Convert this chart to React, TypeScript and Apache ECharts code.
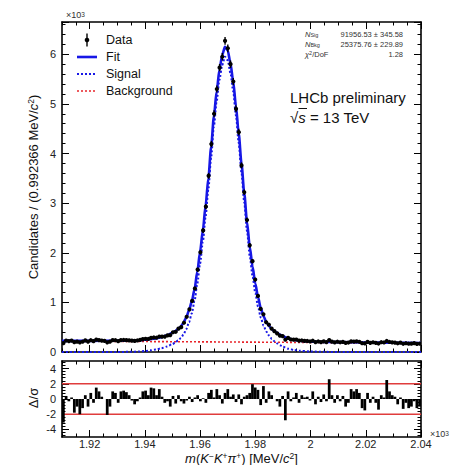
import React, { useEffect, useRef } from 'react';
import * as echarts from 'echarts';

// ---------- data ----------
const X_MIN = 1910;
const X_MAX = 2040;
const BIN_WIDTH = 0.992366; // MeV
// candidates per bin, in units of 10^3
const candidates = [
  0.178, 0.231, 0.220, 0.228, 0.198, 0.210, 0.195, 0.207, 0.233, 0.210,
  0.237, 0.218, 0.248, 0.240, 0.230, 0.225, 0.194, 0.210, 0.240, 0.237,
  0.218, 0.240, 0.242, 0.239, 0.233, 0.229, 0.223, 0.232, 0.243, 0.260,
  0.266, 0.263, 0.286, 0.293, 0.288, 0.312, 0.310, 0.311, 0.334, 0.341,
  0.398, 0.408, 0.471, 0.50, 0.59, 0.71, 0.86, 1.03, 1.28, 1.66,
  2.01, 2.45, 2.93, 3.55, 4.19, 4.80, 5.30, 5.73, 5.95, 6.27,
  6.12, 5.80, 5.45, 4.90, 4.43, 3.76, 3.22, 2.66, 2.15, 1.83,
  1.46, 1.13, 0.87, 0.76, 0.60, 0.55, 0.47, 0.42, 0.375, 0.33,
  0.32, 0.25, 0.285, 0.252, 0.248, 0.251, 0.228, 0.232, 0.224, 0.222,
  0.212, 0.227, 0.200, 0.212, 0.200, 0.214, 0.200, 0.240, 0.209, 0.194,
  0.207, 0.196, 0.205, 0.184, 0.191, 0.215, 0.210, 0.214, 0.206, 0.177,
  0.173, 0.204, 0.185, 0.196, 0.184, 0.171, 0.197, 0.192, 0.222, 0.202,
  0.194, 0.190, 0.176, 0.188, 0.166, 0.177, 0.167, 0.168, 0.178, 0.165,
  0.167,
];
// pulls (Delta / sigma) per bin
const pulls = [
  -3.1, 0.4, -0.3, 0.2, -1.8, -1.0, -2.0, -1.2, 0.5, -1.0,
  0.8, -0.5, 1.5, 1.0, 0.3, 0.0, -2.1, -1.0, 1.0, 0.8,
  -0.5, 1.0, 1.1, 0.9, 0.5, -0.2, -0.7, -0.3, 0.2, 1.0,
  1.1, 0.5, 1.5, 1.4, 0.5, 1.3, 0.3, -0.5, -0.3, -1.0,
  0.4, -0.6, 0.5, -0.3, -0.6, -0.2, 0.3, -0.4, 0.2, 0.5,
  -0.3, 0.1, -0.5, 0.8, 1.2, 0.2, 1.3, 0.5, -0.6, 0.8,
  1.3, 0.3, 0.6, -0.4, 0.6, -0.7, 0.3, 0.5, 0.8, 1.95,
  1.5, 1.2, -0.8, 1.7, -0.5, 1.0, 0.5, 0.0, -0.3, -1.0,
  0.4, -2.8, 1.0, -0.3, 0.2, 0.8, -0.5, 0.5, 0.2, 0.3,
  -0.2, 1.0, -0.7, 0.3, -0.4, 0.6, -0.3, 2.6, 0.5, -0.5,
  0.5, -0.3, 0.4, -1.0, -0.5, 1.3, 1.0, 1.3, 0.8, -1.2,
  -1.5, 0.8, -0.5, 0.3, -0.5, -1.4, 0.5, 0.2, 2.5, 1.0,
  0.5, 0.3, -0.7, 0.2, -1.3, -0.5, -1.2, -1.0, -0.3, -1.2,
  -1.0,
];
// model curves (mass in MeV, values in 10^3)
const curveMass = [
  1910, 1920, 1930, 1935, 1938, 1940, 1942, 1944, 1946, 1948,
  1950, 1951, 1952, 1953, 1954, 1955, 1956, 1957, 1958, 1959,
  1960, 1961, 1962, 1963, 1964, 1965, 1966, 1967, 1968, 1969,
  1970, 1971, 1972, 1973, 1974, 1975, 1976, 1977, 1978, 1979,
  1980, 1981, 1982, 1983, 1984, 1985, 1986, 1987, 1988, 1989,
  1990, 1992, 1994, 1996, 2000, 2005, 2010, 2020, 2030, 2040,
];
const fitValues = [
  0.225, 0.225, 0.227, 0.232, 0.238, 0.247, 0.258, 0.274, 0.298, 0.335,
  0.385, 0.42, 0.46, 0.51, 0.59, 0.70, 0.84, 1.02, 1.27, 1.62,
  2.02, 2.45, 2.95, 3.50, 4.13, 4.75, 5.25, 5.68, 5.98, 6.15,
  6.08, 5.82, 5.45, 4.95, 4.40, 3.80, 3.20, 2.62, 2.12, 1.72,
  1.38, 1.10, 0.88, 0.72, 0.60, 0.52, 0.46, 0.415, 0.38, 0.345,
  0.315, 0.272, 0.245, 0.228, 0.21, 0.203, 0.199, 0.192, 0.186, 0.18,
];
const signalValues = [
  0, 0, 0.001, 0.004, 0.01, 0.02, 0.033, 0.05, 0.075, 0.11,
  0.16, 0.19, 0.23, 0.28, 0.35, 0.46, 0.60, 0.78, 1.03, 1.38,
  1.78, 2.22, 2.72, 3.28, 3.92, 4.55, 5.05, 5.48, 5.78, 5.95,
  5.88, 5.62, 5.25, 4.76, 4.21, 3.61, 3.01, 2.43, 1.93, 1.53,
  1.19, 0.91, 0.69, 0.53, 0.41, 0.33, 0.26, 0.21, 0.17, 0.135,
  0.105, 0.065, 0.04, 0.025, 0.01, 0.003, 0, 0, 0, 0,
];
const bkgMass = [1910, 2040];
const bkgValues = [0.22, 0.18];
const xMajorTicks = [1920, 1940, 1960, 1980, 2000, 2020, 2040];
const pullMajorTicks = [-4, -2, 0, 2, 4];
const pullBand = [2, -2];

const FONT = '"Liberation Sans", Arial, sans-serif';
const BLUE = '#1717e6';
const RED = '#e8242a';

const xAx = (grid: number, pos: string, major: boolean, labels: boolean) => ({
  type: 'value',
  gridIndex: grid,
  position: pos,
  min: X_MIN,
  max: X_MAX,
  interval: major ? 10 : 5,
  axisLine: { show: major, onZero: false, lineStyle: { color: '#000', width: 1.6 } },
  axisTick: major
    ? { show: true, inside: true, length: 7, customValues: xMajorTicks, lineStyle: { color: '#000', width: 1 } }
    : { show: true, inside: true, length: 3.5, lineStyle: { color: '#000', width: 1 } },
  axisLabel: labels
    ? {
        show: true,
        margin: 1,
        customValues: xMajorTicks,
        fontFamily: FONT,
        fontSize: 11,
        lineHeight: 12,
        color: '#222',
        formatter: (v: number) => (Math.round(v) % 20 === 0 ? String(Math.round(v) / 1000) : ''),
      }
    : { show: false },
  splitLine: { show: false },
});

const yTop = (pos: string, major: boolean, labels: boolean) => ({
  type: 'value',
  gridIndex: 0,
  position: pos,
  min: 0,
  max: 6.65,
  interval: major ? 1 : 0.2,
  axisLine: { show: major, onZero: false, lineStyle: { color: '#000', width: 1.6 } },
  axisTick: { show: true, inside: true, length: major ? 7 : 3.5, lineStyle: { color: '#000', width: 1 } },
  axisLabel: labels
    ? {
        show: true,
        margin: 6,
        fontFamily: FONT,
        fontSize: 11,
        color: '#222',
        formatter: (v: number) => (Math.abs(v - Math.round(v)) < 1e-6 ? String(Math.round(v)) : ''),
      }
    : { show: false },
  splitLine: { show: false },
});

const minorPull: number[] = [];
for (let k = -12; k <= 12; k++) minorPull.push(Math.round(k * 0.4 * 10) / 10);

const yPull = (pos: string, major: boolean, labels: boolean) => ({
  type: 'value',
  gridIndex: 1,
  position: pos,
  min: -5,
  max: 5,
  interval: major ? 1 : 0.5,
  axisLine: { show: major, onZero: false, lineStyle: { color: '#000', width: 1.6 } },
  axisTick: major
    ? { show: true, inside: true, length: 7, customValues: pullMajorTicks, lineStyle: { color: '#000', width: 1 } }
    : { show: true, inside: true, length: 3.5, customValues: minorPull, lineStyle: { color: '#000', width: 1 } },
  axisLabel: labels
    ? {
        show: true,
        margin: 6,
        customValues: pullMajorTicks,
        fontFamily: FONT,
        fontSize: 11,
        color: '#222',
        formatter: (v: number) => (Math.round(v) % 2 === 0 ? String(Math.round(v)) : ''),
      }
    : { show: false },
  splitLine: { show: false },
});

const txt = (text: string, x: number, y: number, extra: any = {}, el: any = {}) => ({
  type: 'text',
  x,
  y,
  silent: true,
  ...el,
  style: {
    text,
    fontFamily: FONT,
    fontSize: 12.5,
    fill: '#111',
    align: 'left',
    verticalAlign: 'middle',
    ...extra,
  },
});

export default function App() {
  const ref = useRef<HTMLDivElement>(null);
  useEffect(() => {
    if (!ref.current) return;
    const chart = echarts.init(ref.current, null, { renderer: 'svg' });

    const dataPts = candidates.map((v, i) => [X_MIN + (i + 0.5) * BIN_WIDTH, v]);
    const pullPts = pulls.map((v, i) => [X_MIN + (i + 0.5) * BIN_WIDTH, v]);
    const fitPts = curveMass.map((m, i) => [m, fitValues[i]]);
    const sigPts = curveMass.map((m, i) => [m, signalValues[i]]);
    const bkgPts = bkgMass.map((m, i) => [m, bkgValues[i]]);

    const supRich = {
      i: { fontStyle: 'italic', fontFamily: FONT, fontSize: 13, lineHeight: 14, fill: '#111' },
      sup: { fontFamily: FONT, fontSize: 8.5, lineHeight: 14, verticalAlign: 'top', fill: '#111' },
    };

    const option: any = {
      animation: false,
      backgroundColor: '#fff',
      grid: [
        { left: 62, top: 22, width: 359, height: 330 },
        { left: 62, top: 361, width: 359, height: 76 },
      ],
      xAxis: [
        xAx(0, 'bottom', true, false),
        xAx(0, 'bottom', false, false),
        xAx(0, 'top', true, false),
        xAx(0, 'top', false, false),
        xAx(1, 'bottom', true, true),
        xAx(1, 'bottom', false, false),
        xAx(1, 'top', true, false),
        xAx(1, 'top', false, false),
      ],
      yAxis: [
        yTop('left', true, true),
        yTop('left', false, false),
        yTop('right', true, false),
        yTop('right', false, false),
        yPull('left', true, true),
        yPull('left', false, false),
        yPull('right', true, false),
        yPull('right', false, false),
      ],
      series: [
        {
          type: 'line',
          name: 'Background',
          xAxisIndex: 0,
          yAxisIndex: 0,
          data: bkgPts,
          showSymbol: false,
          lineStyle: { color: RED, width: 1.6, type: [2, 2] },
          z: 2,
        },
        {
          type: 'line',
          name: 'Signal',
          xAxisIndex: 0,
          yAxisIndex: 0,
          data: sigPts,
          showSymbol: false,
          smooth: 0.25,
          smoothMonotone: 'x',
          lineStyle: { color: BLUE, width: 2, type: [2, 2] },
          z: 3,
        },
        {
          type: 'line',
          name: 'Fit',
          xAxisIndex: 0,
          yAxisIndex: 0,
          data: fitPts,
          showSymbol: false,
          smooth: 0.25,
          smoothMonotone: 'x',
          lineStyle: { color: BLUE, width: 2.6 },
          z: 4,
        },
        {
          type: 'custom',
          name: 'Data',
          xAxisIndex: 0,
          yAxisIndex: 0,
          data: dataPts,
          clip: true,
          z: 5,
          encode: { x: 0, y: 1 },
          renderItem: (params: any, api: any) => {
            const x = api.value(0);
            const y = api.value(1);
            const err = Math.sqrt(y * 1000) / 1000;
            const p = api.coord([x, y]);
            const l = api.coord([x - BIN_WIDTH / 2, y]);
            const r = api.coord([x + BIN_WIDTH / 2, y]);
            const t = api.coord([x, y + err]);
            const b = api.coord([x, y - err]);
            return {
              type: 'group',
              children: [
                { type: 'line', shape: { x1: l[0], y1: p[1], x2: r[0], y2: p[1] }, style: { stroke: '#000', lineWidth: 1.4 } },
                { type: 'line', shape: { x1: p[0], y1: t[1], x2: p[0], y2: b[1] }, style: { stroke: '#000', lineWidth: 1.4 } },
                { type: 'circle', shape: { cx: p[0], cy: p[1], r: 2.1 }, style: { fill: '#000' } },
              ],
            };
          },
        },
        ...pullBand.map((lv) => ({
          type: 'line',
          xAxisIndex: 4,
          yAxisIndex: 4,
          data: [
            [X_MIN, lv],
            [X_MAX, lv],
          ],
          showSymbol: false,
          lineStyle: { color: '#e03c3c', width: 1.5 },
          z: 2,
        })),
        {
          type: 'custom',
          name: 'Pull',
          xAxisIndex: 4,
          yAxisIndex: 4,
          data: pullPts,
          clip: true,
          z: 5,
          encode: { x: 0, y: 1 },
          renderItem: (params: any, api: any) => {
            const x = api.value(0);
            const y = api.value(1);
            const a = api.coord([x - BIN_WIDTH / 2, y]);
            const b = api.coord([x + BIN_WIDTH / 2, 0]);
            return {
              type: 'rect',
              shape: {
                x: Math.min(a[0], b[0]),
                y: Math.min(a[1], b[1]),
                width: Math.abs(b[0] - a[0]),
                height: Math.abs(b[1] - a[1]),
              },
              style: { fill: '#000' },
            };
          },
        },
      ],
      graphic: [
        // legend
        { type: 'line', silent: true, shape: { x1: 87, y1: 33.5, x2: 87, y2: 46.5 }, style: { stroke: '#000', lineWidth: 1.4 } },
        { type: 'circle', silent: true, shape: { cx: 87, cy: 40, r: 2.3 }, style: { fill: '#000' } },
        { type: 'line', silent: true, shape: { x1: 77, y1: 57, x2: 97, y2: 57 }, style: { stroke: BLUE, lineWidth: 2.6 } },
        { type: 'line', silent: true, shape: { x1: 77, y1: 74, x2: 97, y2: 74 }, style: { stroke: BLUE, lineWidth: 2, lineDash: [2, 2] } },
        { type: 'line', silent: true, shape: { x1: 77, y1: 91, x2: 97, y2: 91 }, style: { stroke: RED, lineWidth: 1.6, lineDash: [2, 2] } },
        txt('Data', 106, 40),
        txt('Fit', 106, 57),
        txt('Signal', 106, 74),
        txt('Background', 106, 91),
        // fit results
        txt('{i|N}{s|Sig}', 305, 34, {
          fontSize: 7.5,
          fill: '#333',
          rich: { i: { fontStyle: 'italic', fontSize: 7.5, fontFamily: FONT, fill: '#333' }, s: { fontSize: 5.5, fontFamily: FONT, verticalAlign: 'bottom', fill: '#333' } },
        }),
        txt('{i|N}{s|Bkg}', 305, 44, {
          fontSize: 7.5,
          fill: '#333',
          rich: { i: { fontStyle: 'italic', fontSize: 7.5, fontFamily: FONT, fill: '#333' }, s: { fontSize: 5.5, fontFamily: FONT, verticalAlign: 'bottom', fill: '#333' } },
        }),
        txt('{g|χ}{s|2}/DoF', 305, 54, {
          fontSize: 7.5,
          fill: '#333',
          rich: { g: { fontStyle: 'italic', fontSize: 7.5, fontFamily: FONT, fill: '#333' }, s: { fontSize: 5.5, fontFamily: FONT, verticalAlign: 'top', fill: '#333' } },
        }),
        txt('91956.53 ± 345.58', 403, 34, { fontSize: 7.5, fill: '#333', align: 'right' }),
        txt('25375.76 ± 229.89', 403, 44, { fontSize: 7.5, fill: '#333', align: 'right' }),
        txt('1.28', 403, 54, { fontSize: 7.5, fill: '#333', align: 'right' }),
        // LHCb label
        txt('LHCb preliminary', 290, 97, { fontSize: 15 }),
        txt('√{i|s} = 13 TeV', 290, 117, {
          fontSize: 15,
          rich: { i: { fontStyle: 'italic', fontSize: 15, fontFamily: FONT, fill: '#111' } },
        }),
        { type: 'line', silent: true, shape: { x1: 298.5, y1: 108.5, x2: 307, y2: 108.5 }, style: { stroke: '#111', lineWidth: 1 } },
        // multipliers
        txt('×10{sup|3}', 66, 15, { fontSize: 9, fill: '#333', rich: { sup: { fontSize: 6.5, fontFamily: FONT, verticalAlign: 'top', fill: '#333' } } }),
        txt('×10{sup|3}', 430, 434, { fontSize: 9, fill: '#333', rich: { sup: { fontSize: 6.5, fontFamily: FONT, verticalAlign: 'top', fill: '#333' } } }),
        // axis titles
        txt('Candidates / (0.992366 MeV/{i|c}{sup|2})', 33, 187, { fontSize: 13, lineHeight: 14, align: 'center', rich: supRich }, { rotation: Math.PI / 2 }),
        txt('Δ/σ', 33, 398, { fontSize: 13, align: 'center' }, { rotation: Math.PI / 2 }),
        txt('{i|m}({i|K}{sup|−}{i|K}{sup|+}{i|π}{sup|+}) [MeV/{i|c}{sup|2}]', 241.5, 458.5, { fontSize: 13, lineHeight: 14, align: 'center', rich: supRich }),
      ],
    };
    chart.setOption(option);
    return () => chart.dispose();
  }, []);
  return (
    <div
      ref={ref}
      style={{ position: 'fixed', left: 0, top: 0, width: 466, height: 465, background: '#fff' }}
    />
  );
}
